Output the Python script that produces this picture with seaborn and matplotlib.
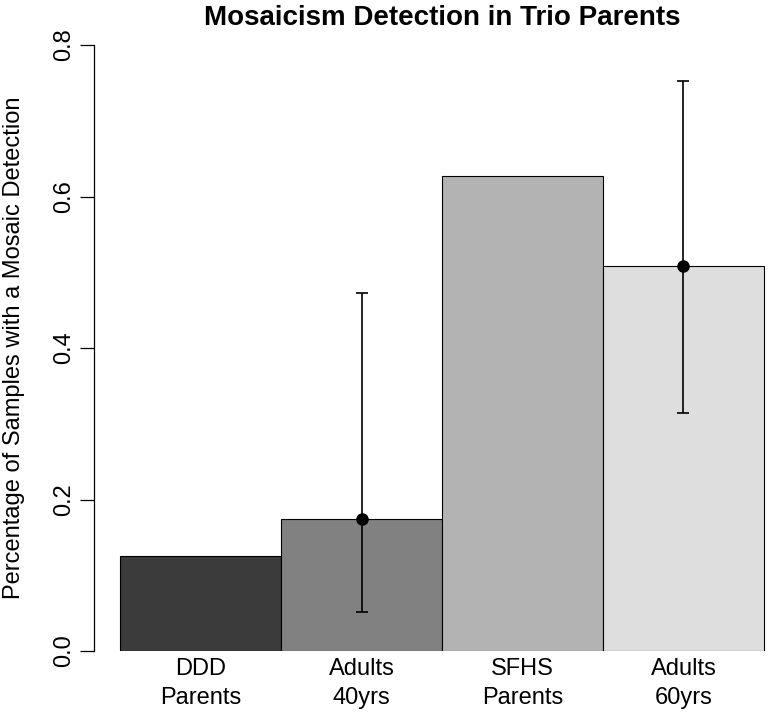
import numpy as np
import pandas as pd
import matplotlib
matplotlib.use("Agg")
import matplotlib.pyplot as plt
import seaborn as sns

# data
groups = ["DDD\nParents", "Adults\n40yrs", "SFHS\nParents", "Adults\n60yrs"]
rates = [0.125, 0.174, 0.627, 0.508]
bar_colors = ["#3b3b3b", "#818181", "#b3b3b3", "#dedede"]

# estimates with confidence intervals (only the two reference cohorts)
est_groups = ["Adults\n40yrs", "Adults\n60yrs"]
est_values = [0.174, 0.508]
est_lower = [0.051, 0.314]
est_upper = [0.473, 0.753]

sns.set_style("white")
plt.rcParams["font.family"] = ["Liberation Sans", "DejaVu Sans"]
plt.rcParams["text.color"] = "black"
plt.rcParams["xtick.color"] = "black"
plt.rcParams["ytick.color"] = "black"
plt.rcParams["axes.labelcolor"] = "black"

df = pd.DataFrame({"group": groups, "rate": rates})

W, H = 768, 714
fig = plt.figure(figsize=(W / 100, H / 100), dpi=100)
# plot region in pixels: x 94.3 -> 789.7, y 45 -> 651
ax = fig.add_axes([94.3 / W, 1 - 651 / H, (789.7 - 94.3) / W, (651 - 45) / H])

sns.barplot(data=df, x="group", y="rate", hue="group", palette=bar_colors,
            order=groups, hue_order=groups, width=1.0, dodge=False,
            edgecolor="black", linewidth=0.8, saturation=1, legend=False, ax=ax)

pos = [groups.index(g) for g in est_groups]
ax.errorbar(pos, est_values,
            yerr=[np.array(est_values) - np.array(est_lower),
                  np.array(est_upper) - np.array(est_values)],
            fmt="o", color="black", markersize=8, elinewidth=1.2,
            capsize=4.5, capthick=1.2)

for s in ["top", "right", "bottom"]:
    ax.spines[s].set_visible(False)
ax.spines["left"].set_bounds(0, 0.8)
ax.spines["left"].set_linewidth(0.9)
ax.spines["left"].set_color("black")

ax.set_xlim(-0.66, 3.66)
ax.set_ylim(0, 0.8)
ax.set_yticks([0.0, 0.2, 0.4, 0.6, 0.8])
ax.set_yticklabels(["0.0", "0.2", "0.4", "0.6", "0.8"])

ax.tick_params(axis="y", direction="out", length=10, width=0.9, color="black",
               labelsize=17, pad=4, left=True, labelrotation=90)
for lab in ax.get_yticklabels():
    lab.set_verticalalignment("center")
ax.tick_params(axis="x", length=0, labelsize=17, pad=5)
for lab in ax.get_xticklabels():
    lab.set_linespacing(1.4)

ax.set_xlabel("")
ax.set_ylabel("Percentage of Samples with a Mosaic Detection", fontsize=17,
              va="baseline")
ax.yaxis.set_label_coords(20 / W, 0.5 * ((1 - 651 / H) + (1 - 45 / H)),
                          transform=fig.transFigure)

ax.set_title("Mosaicism Detection in Trio Parents", fontsize=20,
             fontweight="bold", pad=14.4)

fig.savefig("out.png", dpi=100)
